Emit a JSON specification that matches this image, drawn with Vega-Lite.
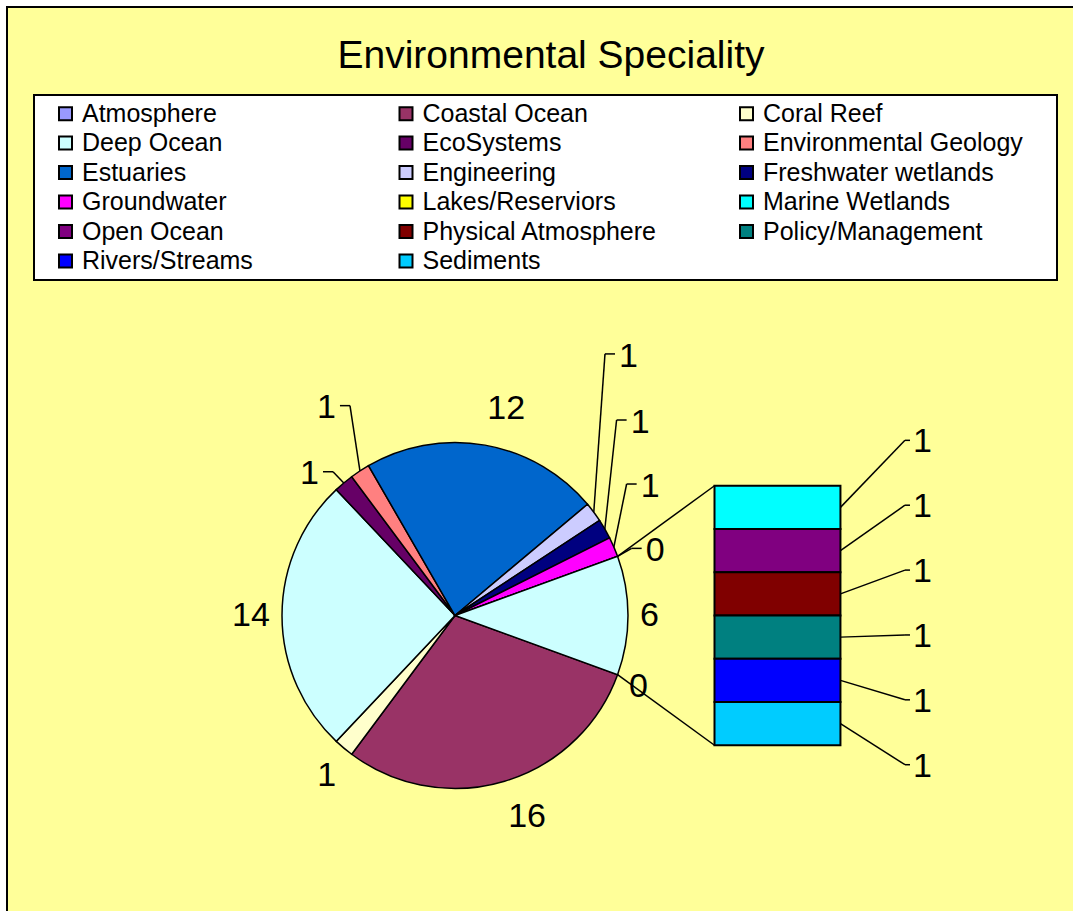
{
  "$schema": "https://vega.github.io/schema/vega-lite/v6.json",
  "width": 1066,
  "height": 904,
  "autosize": {"type": "none"},
  "padding": {"left": 7, "top": 7, "right": 0, "bottom": 0},
  "background": "white",
  "title": {
    "text": "Environmental Speciality",
    "anchor": "middle",
    "frame": "group",
    "offset": 0,
    "dx": 11,
    "dy": 100,
    "baseline": "alphabetic",
    "font": "Liberation Sans",
    "fontSize": 39,
    "fontWeight": "normal",
    "color": "black"
  },
  "data": {
    "values": [
      {"idx": 0, "category": "Atmosphere", "value": 0, "part": "pie"},
      {"idx": 1, "category": "Coastal Ocean", "value": 16, "part": "pie"},
      {"idx": 2, "category": "Coral Reef", "value": 1, "part": "pie"},
      {"idx": 3, "category": "Deep Ocean", "value": 14, "part": "pie"},
      {"idx": 4, "category": "EcoSystems", "value": 1, "part": "pie"},
      {"idx": 5, "category": "Environmental Geology", "value": 1, "part": "pie"},
      {"idx": 6, "category": "Estuaries", "value": 12, "part": "pie"},
      {"idx": 7, "category": "Engineering", "value": 1, "part": "pie"},
      {"idx": 8, "category": "Freshwater wetlands", "value": 1, "part": "pie"},
      {"idx": 9, "category": "Groundwater", "value": 1, "part": "pie"},
      {"idx": 10, "category": "Lakes/Reserviors", "value": 0, "part": "pie"},
      {"idx": 11, "category": "Marine Wetlands", "value": 1, "part": "bar"},
      {"idx": 12, "category": "Open Ocean", "value": 1, "part": "bar"},
      {"idx": 13, "category": "Physical Atmosphere", "value": 1, "part": "bar"},
      {"idx": 14, "category": "Policy/Management", "value": 1, "part": "bar"},
      {"idx": 15, "category": "Rivers/Streams", "value": 1, "part": "bar"},
      {"idx": 16, "category": "Sediments", "value": 1, "part": "bar"}
    ]
  },
  "layer": [
    {
      "transform": [
        {"calculate": "datum.part == 'bar' ? 'Other' : datum.category", "as": "slice"},
        {"aggregate": [{"op": "sum", "field": "value", "as": "value"}, {"op": "min", "field": "idx", "as": "idx"}], "groupby": ["slice"]},
        {"window": [{"op": "sum", "field": "value", "as": "cum"}], "sort": [{"field": "idx", "order": "ascending"}]},
        {"joinaggregate": [{"op": "sum", "field": "value", "as": "total"}]},
        {"calculate": "1.919862 + 2*PI*(datum.cum - datum.value)/datum.total", "as": "a0"},
        {"calculate": "1.919862 + 2*PI*datum.cum/datum.total", "as": "a1"},
        {"calculate": "(datum.a0 + datum.a1)/2", "as": "mid"},
        {"calculate": "datum.slice == 'Engineering' ? [0.925, 1.512] : datum.slice == 'Freshwater wetlands' ? [0.992, 1.130] : datum.slice == 'Groundwater' ? [1.050, 0.760] : datum.slice == 'Lakes/Reserviors' ? [1.079, 0.388] : datum.slice == 'Environmental Geology' ? [-0.665, 1.213] : datum.slice == 'EcoSystems' ? [-0.763, 0.831] : null", "as": "lead"},
        {"calculate": "sin(datum.mid)", "as": "ex"},
        {"calculate": "cos(datum.mid)", "as": "ey"},
        {"calculate": "datum.lead ? datum.lead[0] : null", "as": "enx"},
        {"calculate": "datum.lead ? datum.lead[1] : null", "as": "eny"},
        {"calculate": "datum.lead ? datum.lead[0] - (datum.lead[0] > 0 ? 0.058 : -0.058) : null", "as": "elx"},
        {"calculate": "datum.lead ? datum.lead[0] + (datum.lead[0] > 0 ? 0.078 : -0.078) : (185*sin(datum.mid) + 9.5*length('' + datum.value)*(sin(datum.mid) > 0.01 ? 1 : (sin(datum.mid) < -0.01 ? -1 : 0)))/173", "as": "lx"},
        {"calculate": "datum.lead ? datum.lead[1] - 0.015 : 210*cos(datum.mid)/173", "as": "ly"},
        {"calculate": "sin(datum.a0)", "as": "cx0"},
        {"calculate": "cos(datum.a0)", "as": "cy0"},
        {"calculate": "sin(datum.a1)", "as": "cx1"},
        {"calculate": "cos(datum.a1)", "as": "cy1"},
        {"calculate": "datum.value*0.125", "as": "btop"},
        {"calculate": "-datum.value*0.125", "as": "bbot"}
      ],
      "layer": [
        {
          "mark": {"type": "arc", "outerRadius": 173, "stroke": "black", "strokeWidth": 1.5},
          "encoding": {
            "x": {"datum": 0, "type": "quantitative", "scale": {"domain": [-2.5896, 3.57225], "nice": false, "zero": false}, "axis": null},
            "y": {"datum": 0, "type": "quantitative", "scale": {"domain": [-1.70809, 3.51734], "nice": false, "zero": false}, "axis": null},
            "theta": {"field": "a0", "type": "quantitative", "scale": null},
            "theta2": {"field": "a1"},
            "color": {
              "field": "slice",
              "type": "nominal",
              "scale": {
                "domain": ["Atmosphere", "Coastal Ocean", "Coral Reef", "Deep Ocean", "EcoSystems", "Environmental Geology", "Estuaries", "Engineering", "Freshwater wetlands", "Groundwater", "Lakes/Reserviors", "Marine Wetlands", "Open Ocean", "Physical Atmosphere", "Policy/Management", "Rivers/Streams", "Sediments", "Other"],
                "range": ["#9999FF", "#993366", "#FFFFCC", "#CCFFFF", "#660066", "#FF8080", "#0066CC", "#CCCCFF", "#000080", "#FF00FF", "#FFFF00", "#00FFFF", "#800080", "#800000", "#008080", "#0000FF", "#00CCFF", "#CCFFFF"]
              },
              "legend": {
                "title": "\u00a0",
                "orient": "none",
                "legendX": 27,
                "legendY": 88,
                "values": ["Atmosphere", "Deep Ocean", "Estuaries", "Groundwater", "Open Ocean", "Rivers/Streams", "Coastal Ocean", "EcoSystems", "Engineering", "Lakes/Reserviors", "Physical Atmosphere", "Sediments", "Coral Reef", "Environmental Geology", "Freshwater wetlands", "Marine Wetlands", "Policy/Management"]
              }
            }
          }
        },
        {
          "mark": {"type": "text", "font": "Liberation Sans", "fontSize": 34, "align": "center", "baseline": "middle", "color": "black"},
          "encoding": {
            "x": {"field": "lx", "type": "quantitative", "scale": {"domain": [-2.5896, 3.57225], "nice": false, "zero": false}, "axis": null},
            "y": {"field": "ly", "type": "quantitative", "scale": {"domain": [-1.70809, 3.51734], "nice": false, "zero": false}, "axis": null},
            "text": {"field": "value", "type": "quantitative"}
          }
        },
        {
          "transform": [{"filter": "datum.lead != null"}],
          "mark": {"type": "rule", "color": "black", "strokeWidth": 1.5},
          "encoding": {
            "x": {"field": "ex", "type": "quantitative", "scale": {"domain": [-2.5896, 3.57225], "nice": false, "zero": false}, "axis": null},
            "y": {"field": "ey", "type": "quantitative", "scale": {"domain": [-1.70809, 3.51734], "nice": false, "zero": false}, "axis": null},
            "x2": {"field": "elx"},
            "y2": {"field": "eny"}
          }
        },
        {
          "transform": [{"filter": "datum.lead != null"}],
          "mark": {"type": "rule", "color": "black", "strokeWidth": 1.5},
          "encoding": {
            "x": {"field": "elx", "type": "quantitative", "scale": {"domain": [-2.5896, 3.57225], "nice": false, "zero": false}, "axis": null},
            "y": {"field": "eny", "type": "quantitative", "scale": {"domain": [-1.70809, 3.51734], "nice": false, "zero": false}, "axis": null},
            "x2": {"field": "enx"},
            "y2": {"field": "eny"}
          }
        },
        {
          "transform": [{"filter": "datum.slice == 'Other'"}],
          "mark": {"type": "rule", "color": "black", "strokeWidth": 1.5},
          "encoding": {
            "x": {"field": "cx0", "type": "quantitative", "scale": {"domain": [-2.5896, 3.57225], "nice": false, "zero": false}, "axis": null},
            "y": {"field": "cy0", "type": "quantitative", "scale": {"domain": [-1.70809, 3.51734], "nice": false, "zero": false}, "axis": null},
            "x2": {"datum": 1.5},
            "y2": {"field": "btop"}
          }
        },
        {
          "transform": [{"filter": "datum.slice == 'Other'"}],
          "mark": {"type": "rule", "color": "black", "strokeWidth": 1.5},
          "encoding": {
            "x": {"field": "cx1", "type": "quantitative", "scale": {"domain": [-2.5896, 3.57225], "nice": false, "zero": false}, "axis": null},
            "y": {"field": "cy1", "type": "quantitative", "scale": {"domain": [-1.70809, 3.51734], "nice": false, "zero": false}, "axis": null},
            "x2": {"datum": 1.5},
            "y2": {"field": "bbot"}
          }
        }
      ]
    },
    {
      "transform": [
        {"filter": "datum.part == 'bar'"},
        {"window": [{"op": "sum", "field": "value", "as": "cum"}], "sort": [{"field": "idx", "order": "descending"}]},
        {"joinaggregate": [{"op": "sum", "field": "value", "as": "total"}]},
        {"calculate": "0.25*(datum.cum - datum.value - datum.total/2)", "as": "y0"},
        {"calculate": "0.25*(datum.cum - datum.total/2)", "as": "y1"},
        {"calculate": "(datum.y0 + datum.y1)/2", "as": "ym"},
        {"calculate": "1.5*datum.ym + 0.075", "as": "lyb"}
      ],
      "layer": [
        {
          "mark": {"type": "rect", "stroke": "black", "strokeWidth": 2},
          "encoding": {
            "x": {"datum": 1.5, "type": "quantitative", "scale": {"domain": [-2.5896, 3.57225], "nice": false, "zero": false}, "axis": null},
            "x2": {"datum": 2.228},
            "y": {"field": "y0", "type": "quantitative", "scale": {"domain": [-1.70809, 3.51734], "nice": false, "zero": false}, "axis": null},
            "y2": {"field": "y1"},
            "color": {
              "field": "category",
              "type": "nominal",
              "scale": {
                "domain": ["Atmosphere", "Coastal Ocean", "Coral Reef", "Deep Ocean", "EcoSystems", "Environmental Geology", "Estuaries", "Engineering", "Freshwater wetlands", "Groundwater", "Lakes/Reserviors", "Marine Wetlands", "Open Ocean", "Physical Atmosphere", "Policy/Management", "Rivers/Streams", "Sediments", "Other"],
                "range": ["#9999FF", "#993366", "#FFFFCC", "#CCFFFF", "#660066", "#FF8080", "#0066CC", "#CCCCFF", "#000080", "#FF00FF", "#FFFF00", "#00FFFF", "#800080", "#800000", "#008080", "#0000FF", "#00CCFF", "#CCFFFF"]
              },
              "legend": {
                "title": "\u00a0",
                "orient": "none",
                "legendX": 27,
                "legendY": 88,
                "values": ["Atmosphere", "Deep Ocean", "Estuaries", "Groundwater", "Open Ocean", "Rivers/Streams", "Coastal Ocean", "EcoSystems", "Engineering", "Lakes/Reserviors", "Physical Atmosphere", "Sediments", "Coral Reef", "Environmental Geology", "Freshwater wetlands", "Marine Wetlands", "Policy/Management"]
              }
            }
          }
        },
        {
          "mark": {"type": "rule", "color": "black", "strokeWidth": 1.5},
          "encoding": {
            "x": {"datum": 2.228, "type": "quantitative", "scale": {"domain": [-2.5896, 3.57225], "nice": false, "zero": false}, "axis": null},
            "y": {"field": "ym", "type": "quantitative", "scale": {"domain": [-1.70809, 3.51734], "nice": false, "zero": false}, "axis": null},
            "x2": {"datum": 2.601},
            "y2": {"field": "lyb"}
          }
        },
        {
          "mark": {"type": "rule", "color": "black", "strokeWidth": 1.5},
          "encoding": {
            "x": {"datum": 2.601, "type": "quantitative", "scale": {"domain": [-2.5896, 3.57225], "nice": false, "zero": false}, "axis": null},
            "y": {"field": "lyb", "type": "quantitative", "scale": {"domain": [-1.70809, 3.51734], "nice": false, "zero": false}, "axis": null},
            "x2": {"datum": 2.63},
            "y2": {"field": "lyb"}
          }
        },
        {
          "mark": {"type": "text", "font": "Liberation Sans", "fontSize": 34, "align": "center", "baseline": "middle", "dy": 2, "color": "black"},
          "encoding": {
            "x": {"datum": 2.702, "type": "quantitative", "scale": {"domain": [-2.5896, 3.57225], "nice": false, "zero": false}, "axis": null},
            "y": {"field": "lyb", "type": "quantitative", "scale": {"domain": [-1.70809, 3.51734], "nice": false, "zero": false}, "axis": null},
            "text": {"field": "value", "type": "quantitative"}
          }
        }
      ]
    }
  ],
  "config": {
    "view": {"fill": "#FFFF99", "stroke": "black", "strokeWidth": 2, "strokeDash": [1066, 1970, 904, 20]},
    "legend": {
      "columns": 3,
      "symbolType": "square",
      "symbolSize": 169,
      "symbolStrokeColor": "black",
      "symbolStrokeWidth": 2,
      "symbolOpacity": 1,
      "labelFont": "Liberation Sans",
      "labelFontSize": 25,
      "labelColor": "black",
      "labelLimit": 0,
      "gridAlign": "all",
      "columnPadding": 38.5,
      "rowPadding": 3.5,
      "padding": 6,
      "strokeColor": "black",
      "strokeWidth": 2,
      "fillColor": "white",
      "symbolOffset": 13,
      "labelOffset": 4,
      "titleOrient": "right",
      "titlePadding": 28,
      "titleFontSize": 10
    }
  }
}
